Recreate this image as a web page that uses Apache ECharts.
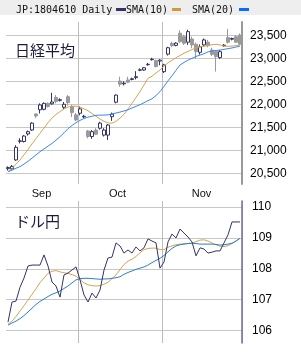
<!DOCTYPE html>
<html><head><meta charset="utf-8">
<script src="https://cdn.jsdelivr.net/npm/echarts@6/dist/echarts.min.js"></script>
<style>html,body{margin:0;padding:0;background:#fff}#c{width:301px;height:357px}</style>
</head><body><div id="c"></div>
<script>
// ---- data ----
const dates = [
 '2019-09-03','2019-09-04','2019-09-05','2019-09-06','2019-09-09','2019-09-10','2019-09-11','2019-09-12','2019-09-13',
 '2019-09-17','2019-09-18','2019-09-19','2019-09-20','2019-09-24','2019-09-25','2019-09-26','2019-09-27','2019-09-30',
 '2019-10-01','2019-10-02','2019-10-03','2019-10-04','2019-10-07','2019-10-08','2019-10-09','2019-10-10','2019-10-11',
 '2019-10-15','2019-10-16','2019-10-17','2019-10-18','2019-10-21','2019-10-23','2019-10-24','2019-10-25','2019-10-28',
 '2019-10-29','2019-10-30','2019-10-31',
 '2019-11-01','2019-11-05','2019-11-06','2019-11-07','2019-11-08','2019-11-11','2019-11-12','2019-11-13','2019-11-14',
 '2019-11-15','2019-11-18','2019-11-19','2019-11-20','2019-11-21','2019-11-22','2019-11-25','2019-11-26','2019-11-27',
 '2019-11-28','2019-11-29'];
const monthNames = {'09':'Sep','10':'Oct','11':'Nov'};

const nkOpen  = [20600,20600,20790,21195,21190,21355,21440,21790,21880,21890,22020,22010,22150,22085,21935,22165,21950,21770,
 21805,21725,21420,21300,21440,21480,21330,21330,21730,22045,22505,22445,22530,22540,22580,22740,22745,22860,22970,22950,22940,
 22710,23090,23325,23280,23545,23470,23350,23420,23305,23130,23290,23350,23180,23145,23015,23270,23450,23415,23470,23505];
const nkClose = [20625,20650,21065,21205,21310,21405,21590,21745,21985,22020,21950,22050,22060,22100,22000,22035,21820,21660,
 21900,21740,21300,21405,21350,21590,21440,21550,21785,22200,22435,22460,22480,22555,22600,22750,22795,22870,22980,22820,22960,
 22855,23230,23275,23330,23360,23325,23580,23290,23145,23250,23400,23275,23085,23035,23145,23285,23350,23430,23350,23305];
const nkLow   = [20560,20560,20770,21150,21170,21320,21420,21700,21800,21870,21930,21990,22020,22060,21890,21970,21720,21635,
 21760,21700,21260,21250,21330,21450,21300,21225,21640,22020,22380,22410,22460,22520,22540,22720,22730,22840,22950,22800,22850,
 22680,23060,23240,23260,23330,23290,23290,23220,22990,23080,23270,23240,23050,22710,22990,23250,23320,23390,23330,23290];
const nkHigh  = [20650,20680,21110,21260,21330,21430,21610,21800,22020,22040,22040,22250,22200,22130,22050,22200,21990,21810,
 21950,21770,21440,21440,21480,21620,21480,21570,21820,22215,22600,22500,22600,22580,22720,22780,22810,22900,23010,22970,22980,
 22880,23250,23360,23350,23610,23510,23620,23470,23340,23300,23430,23400,23230,23170,23180,23310,23640,23450,23500,23540];
const nkSma10 = [20535,20600,20700,20790,20900,21020,21140,21255,21370,21485,21600,21700,21780,21840,21900,21940,21960,21960,
 21940,21900,21860,21800,21740,21680,21630,21595,21590,21630,21700,21780,21900,22020,22150,22275,22420,22565,22610,22680,22745,
 22830,22900,22960,23010,23060,23110,23150,23190,23230,23250,23260,23280,23295,23305,23290,23265,23260,23265,23275,23290];
const nkSma20 = [20535,20570,20610,20645,20700,20760,20830,20900,20970,21030,21090,21150,21220,21295,21380,21470,21540,21600,
 21650,21690,21720,21740,21760,21765,21765,21770,21790,21810,21830,21855,21880,21920,21955,21990,22035,22080,22120,22190,22275,
 22390,22510,22620,22740,22855,22910,22960,23000,23040,23070,23100,23140,23155,23170,23180,23195,23210,23225,23245,23265];

const fx      = [106.27,106.92,106.95,107.40,107.70,108.09,108.12,108.12,108.12,108.45,108.09,107.57,107.44,107.08,107.80,107.86,107.96,108.06,
 107.64,107.15,106.92,107.21,107.05,107.31,107.96,108.35,108.38,108.84,108.74,108.51,108.61,108.51,108.71,108.58,108.68,108.97,108.90,108.84,108.02,
 108.22,108.87,109.13,109.00,109.29,109.16,109.03,108.87,108.42,108.68,108.64,108.51,108.54,108.58,108.58,108.84,109.10,109.52,109.52,109.52];
const fxSma10 = [106.20,106.30,106.45,106.63,106.80,106.98,107.17,107.35,107.55,107.70,107.85,107.92,107.94,107.90,107.87,107.85,107.81,107.76,
 107.65,107.54,107.48,107.45,107.44,107.45,107.50,107.56,107.68,107.80,107.97,108.14,108.25,108.31,108.40,108.52,108.62,108.66,108.67,108.67,108.62,
 108.62,108.70,108.74,108.78,108.80,108.81,108.82,108.83,108.88,108.93,108.94,108.90,108.84,108.78,108.73,108.72,108.75,108.82,108.90,108.99];
const fxSma20 = [106.17,106.24,106.30,106.38,106.48,106.60,106.72,106.84,106.94,107.02,107.10,107.17,107.22,107.28,107.36,107.44,107.54,107.64,
 107.68,107.69,107.69,107.68,107.67,107.66,107.67,107.67,107.69,107.71,107.74,107.82,107.88,107.93,107.98,108.02,108.06,108.12,108.20,108.27,108.34,
 108.43,108.55,108.66,108.74,108.78,108.80,108.82,108.83,108.82,108.80,108.80,108.80,108.80,108.79,108.77,108.78,108.80,108.83,108.90,108.99];

// ---- derived helpers ----
const monthStarts = [], labelIdx = [];
{
  let first = 0;
  for (let i = 1; i <= dates.length; i++) {
    if (i === dates.length || dates[i].slice(5,7) !== dates[i-1].slice(5,7)) {
      labelIdx.push(Math.floor((first + i - 2) / 2));
      if (i < dates.length) monthStarts.push(i);
      first = i;
    }
  }
}
const candles = nkOpen.map((o, i) => [o, nkClose[i], nkLow[i], nkHigh[i]]);

const NAVY = '#333366', GOLD = '#d6a44e', BLUE = '#3a86f5', BLUE2 = '#2a7fd0', GRID = '#c8c8c8', VGRID = '#bcbcbc';

const chart = echarts.init(document.getElementById('c'), null, {renderer: 'canvas'});
const xBase = (gi, showLabel) => ({
  type: 'category', gridIndex: gi, data: dates, boundaryGap: true,
  axisLine: {show: false}, axisTick: {show: false},
  axisLabel: showLabel ? {
    interval: (i) => labelIdx.includes(i),
    formatter: (v) => monthNames[v.slice(5,7)],
    fontFamily: 'Liberation Sans', fontSize: 11, color: '#111', margin: 4, padding: [0,0,0,3]
  } : {show: false},
  splitLine: {show: true, interval: (i) => monthStarts.includes(i), lineStyle: {color: VGRID, width: 1}}
});
chart.setOption({
  animation: false,
  graphic: [
    {type: 'rect', shape: {x: 0, y: 0, width: 301, height: 15}, style: {fill: '#eeeeee'}},
    {type: 'text', x: 16, y: 10, style: {text: 'JP:1804610 Daily', font: '10px "DejaVu Sans Mono"', fill: '#111', textVerticalAlign: 'middle'}},
    {type: 'rect', shape: {x: 116, y: 8, width: 10, height: 3}, style: {fill: NAVY}},
    {type: 'text', x: 126, y: 10, style: {text: 'SMA(10)', font: '10px "DejaVu Sans Mono"', fill: '#111', textVerticalAlign: 'middle'}},
    {type: 'rect', shape: {x: 172, y: 8, width: 9, height: 3}, style: {fill: '#d09a38'}},
    {type: 'text', x: 192, y: 10, style: {text: 'SMA(20)', font: '10px "DejaVu Sans Mono"', fill: '#111', textVerticalAlign: 'middle'}},
    {type: 'rect', shape: {x: 239, y: 8, width: 10, height: 3}, style: {fill: '#0a6cff'}},
    {type: 'text', x: 15, y: 50, style: {text: '日経平均', font: '15px "Noto Sans CJK JP"', fill: '#1a1a3a', textVerticalAlign: 'middle'}},
    {type: 'text', x: 15, y: 221, style: {text: 'ドル円', font: '15px "Noto Sans CJK JP"', fill: '#1a1a3a', textVerticalAlign: 'middle'}}
  ],
  grid: [
    {left: 6, right: 59, top: 22, height: 162},
    {left: 6, right: 59, top: 201, height: 142}
  ],
  xAxis: [xBase(0, true), xBase(1, false)],
  yAxis: [
    {type: 'value', gridIndex: 0, position: 'right', min: 20267, max: 23789, splitNumber: 7,
     axisLine: {show: true, lineStyle: {color: '#999', width: 2}}, axisTick: {show: false},
     axisLabel: {showMinLabel: false, showMaxLabel: false, margin: 8, fontFamily: 'Liberation Sans', fontSize: 12, color: '#000',
       formatter: (v) => v.toLocaleString('en-US')},
     splitLine: {show: true, showMinLine: false, showMaxLine: false, lineStyle: {color: GRID}}},
    {type: 'value', gridIndex: 1, position: 'right', min: 105.59, max: 110.2, splitNumber: 5,
     axisLine: {show: true, lineStyle: {color: '#6f6fa0', width: 1.5}}, axisTick: {show: false},
     axisLabel: {showMinLabel: false, showMaxLabel: false, margin: 10, fontFamily: 'Liberation Sans', fontSize: 12, color: '#000'},
     splitLine: {show: true, showMinLine: false, showMaxLine: false, lineStyle: {color: GRID}}}
  ],
  series: [
    {type: 'candlestick', xAxisIndex: 0, yAxisIndex: 0, data: candles, barWidth: 3,
     itemStyle: {color: '#ffffff', color0: '#9a9a9a', borderColor: NAVY, borderColor0: '#9a9a9a', borderWidth: 1}},
    {type: 'line', xAxisIndex: 0, yAxisIndex: 0, data: nkSma10, showSymbol: false, lineStyle: {color: GOLD, width: 1}, z: 3},
    {type: 'line', xAxisIndex: 0, yAxisIndex: 0, data: nkSma20, showSymbol: false, lineStyle: {color: BLUE, width: 1}, z: 3},
    {type: 'line', xAxisIndex: 1, yAxisIndex: 1, data: fx, showSymbol: false, lineStyle: {color: NAVY, width: 1}, z: 4},
    {type: 'line', xAxisIndex: 1, yAxisIndex: 1, data: fxSma10, showSymbol: false, lineStyle: {color: GOLD, width: 1}, z: 3},
    {type: 'line', xAxisIndex: 1, yAxisIndex: 1, data: fxSma20, showSymbol: false, lineStyle: {color: BLUE2, width: 1}, z: 3}
  ]
});
</script></body></html>
